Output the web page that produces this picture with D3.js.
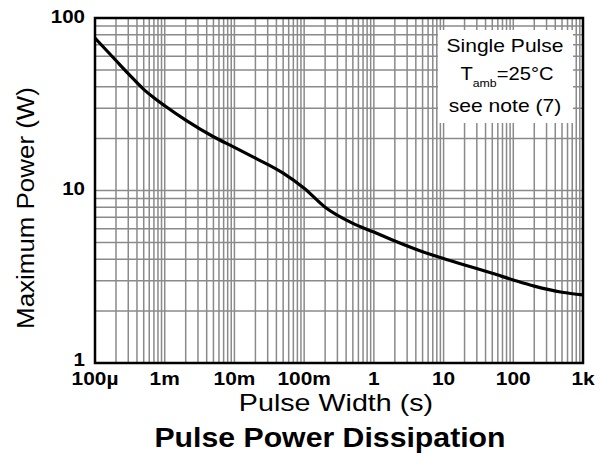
<!DOCTYPE html>
<html>
<head>
<meta charset="utf-8">
<script src="https://cdn.jsdelivr.net/npm/d3@7"></script>
<style>
  body { margin: 0; background: #fff; }
  text { font-family: "Liberation Sans", Arial, sans-serif; }
</style>
</head>
<body>
<svg id="chart"></svg>
<script>
// pulse width (s) vs max power (W)
const pulseWidth = [1e-4, 2e-4, 3e-4, 5e-4, 7e-4, 1e-3, 2e-3, 5e-3, 1e-2, 2e-2, 5e-2,
                    0.1, 0.2, 0.5, 1, 2, 5, 10, 20, 50, 100, 200, 500, 1000];
const maxPower   = [76.5, 56.7, 47.6, 38.6, 34.5, 31, 25.6, 20.5, 17.8, 15.4, 12.6,
                    10.3, 8.0, 6.45, 5.74, 5.1, 4.42, 4.03, 3.7, 3.31, 3.03, 2.79, 2.57, 2.48];

const xTicks = [1e-4, 1e-3, 1e-2, 1e-1, 1, 10, 100, 1000];
const xTickLabels = ["100µ", "1m", "10m", "100m", "1", "10", "100", "1k"];
const yTicks = [1, 10, 100];
const yTickLabels = ["1", "10", "100"];

const width = 600;
const height = 470;
const margin = { top: 18, right: 17, bottom: 107, left: 95 };

const svg = d3.select("#chart")
    .attr("width", width)
    .attr("height", height);

const x = d3.scaleLog()
    .domain([1e-4, 1000])
    .range([margin.left, width - margin.right]);

const y = d3.scaleLog()
    .domain([1, 100])
    .range([height - margin.bottom, margin.top]);

// the original font is a bit wider than Liberation Sans, stretch a text horizontally
function stretch(sel, sx) {
    sel.each(function () {
        const t = d3.select(this);
        const ax = +t.attr("x"), ay = +t.attr("y");
        t.attr("transform", `translate(${ax},${ay}) scale(${sx},1) translate(${-ax},${-ay})`);
    });
}

// grid lines: every 1..9 inside each decade
const xGrid = [];
for (let e = -4; e < 3; e++) {
    for (let k = 1; k < 10; k++) xGrid.push(k * Math.pow(10, e));
}
const yGrid = [];
for (let e = 0; e < 2; e++) {
    for (let k = 1; k < 10; k++) yGrid.push(k * Math.pow(10, e));
}

const grid = svg.append("g").attr("stroke", "#8a8a8a").attr("stroke-width", 1.5);

grid.selectAll("line.v")
    .data(xGrid)
    .enter()
    .append("line")
    .attr("class", "v")
    .attr("x1", d => x(d)).attr("x2", d => x(d))
    .attr("y1", y(100)).attr("y2", y(1));

grid.selectAll("line.h")
    .data(yGrid)
    .enter()
    .append("line")
    .attr("class", "h")
    .attr("x1", x(1e-4)).attr("x2", x(1000))
    .attr("y1", d => y(d)).attr("y2", d => y(d));

// the curve
const line = d3.line()
    .x((d, i) => x(pulseWidth[i]))
    .y(d => y(d))
    .curve(d3.curveMonotoneX);

svg.append("path")
    .datum(maxPower)
    .attr("fill", "none")
    .attr("stroke", "#000")
    .attr("stroke-width", 3.2)
    .attr("d", line);

// frame
svg.append("rect")
    .attr("x", x(1e-4))
    .attr("y", y(100))
    .attr("width", x(1000) - x(1e-4))
    .attr("height", y(1) - y(100))
    .attr("fill", "none")
    .attr("stroke", "#000")
    .attr("stroke-width", 2.5);

// tick labels
svg.selectAll("text.xt")
    .data(xTicks)
    .enter()
    .append("text")
    .attr("class", "xt")
    .attr("x", d => x(d))
    .attr("y", y(1) + 22)
    .attr("text-anchor", "middle")
    .attr("font-size", 18)
    .attr("font-weight", "bold")
    .text((d, i) => xTickLabels[i])
    .call(stretch, 1.16);

svg.selectAll("text.yt")
    .data(yTicks)
    .enter()
    .append("text")
    .attr("class", "yt")
    .attr("x", margin.left - 10)
    .attr("y", d => y(d) + (d === 1 ? 3 : 5))
    .attr("text-anchor", "end")
    .attr("font-size", 19)
    .attr("font-weight", "bold")
    .text((d, i) => yTickLabels[i])
    .call(stretch, 1.08);

// axis titles
svg.append("text")
    .attr("x", 336)
    .attr("y", 411)
    .attr("text-anchor", "middle")
    .attr("font-size", 23.5)
    .text("Pulse Width (s)")
    .call(stretch, 1.22);

svg.append("text")
    .attr("transform", "translate(34,208) rotate(-90) scale(1.08,1)")
    .attr("text-anchor", "middle")
    .attr("font-size", 24)
    .text("Maximum Power (W)");

svg.append("text")
    .attr("x", 330)
    .attr("y", 447)
    .attr("text-anchor", "middle")
    .attr("font-size", 27)
    .attr("font-weight", "bold")
    .text("Pulse Power Dissipation")
    .call(stretch, 1.12);

// note box
const note = svg.append("g");
note.append("rect")
    .attr("x", 438).attr("y", 30)
    .attr("width", 135).attr("height", 93)
    .attr("fill", "#fff");

note.append("text")
    .attr("x", 505).attr("y", 52)
    .attr("text-anchor", "middle")
    .attr("font-size", 18)
    .text("Single Pulse")
    .call(stretch, 1.17);

const t2 = note.append("text")
    .attr("x", 507).attr("y", 80)
    .attr("text-anchor", "middle")
    .attr("font-size", 18);
t2.append("tspan").text("T");
t2.append("tspan").attr("font-size", 11).attr("dy", 7).text("amb");
t2.append("tspan").attr("dy", -7).text("=25°C");
t2.call(stretch, 1.12);

note.append("text")
    .attr("x", 505).attr("y", 112)
    .attr("text-anchor", "middle")
    .attr("font-size", 18)
    .text("see note (7)")
    .call(stretch, 1.17);
</script>
</body>
</html>
